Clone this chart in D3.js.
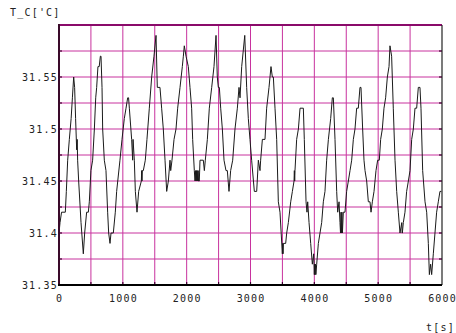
<!DOCTYPE html>
<html>
<head>
<meta charset="utf-8">
<script src="https://cdn.jsdelivr.net/npm/d3@7"></script>
<style>
  body { margin: 0; background: #fff; }
  svg text { font-family: "DejaVu Sans Mono", monospace; font-size: 10px; letter-spacing: 1.2px; fill: #222; }
</style>
</head>
<body>
<svg id="chart" width="456" height="333"></svg>
<script>
// time [s]
const times = [0,16,40,99,115,136,162,190,210,230,245,260,277,285,292,308,345,381,402,433,460,475,500,527,554,575,590,610,630,648,658,674,684,710,736,762,778,799,815,851,882,903,955,987,1023,1050,1076,1090,1102,1138,1154,1160,1180,1196,1222,1248,1290,1295,1300,1305,1321,1352,1378,1415,1452,1488,1520,1540,1582,1608,1634,1661,1687,1713,1739,1750,1770,1802,1833,1859,1896,1932,1948,1963,1990,2026,2052,2078,2094,2120,2131,2140,2145,2152,2158,2165,2172,2180,2186,2198,2209,2261,2277,2292,2324,2355,2392,2428,2460,2480,2496,2512,2533,2559,2585,2616,2637,2663,2689,2721,2757,2794,2820,2836,2862,2910,2940,2966,2992,3018,3060,3097,3123,3149,3159,3186,3227,3253,3290,3321,3342,3358,3384,3410,3436,3462,3499,3505,3510,3515,3551,3567,3593,3630,3656,3682,3687,3692,3697,3723,3750,3776,3828,3843,3870,3885,3896,3917,3943,3969,3990,4000,4005,4011,4018,4024,4037,4063,4089,4115,4141,4167,4193,4220,4256,4282,4298,4324,4350,4366,4387,4402,4410,4418,4425,4432,4440,4454,4480,4506,4533,4559,4585,4611,4637,4663,4689,4715,4731,4757,4778,4794,4820,4846,4872,4888,4909,4935,4966,4992,5018,5039,5065,5091,5117,5144,5170,5185,5211,5237,5264,5290,5316,5342,5370,5375,5379,5394,5420,5446,5473,5499,5525,5551,5577,5603,5629,5655,5671,5697,5734,5760,5786,5802,5822,5838,5864,5890,5916,5942,5968,5990];
// T_C ['C]
const temps = [31.40,31.41,31.42,31.42,31.44,31.47,31.49,31.51,31.53,31.55,31.54,31.51,31.48,31.49,31.47,31.45,31.41,31.38,31.40,31.42,31.42,31.43,31.46,31.47,31.50,31.53,31.54,31.56,31.56,31.57,31.57,31.54,31.50,31.47,31.46,31.42,31.40,31.39,31.40,31.40,31.42,31.44,31.47,31.49,31.51,31.52,31.53,31.53,31.52,31.49,31.47,31.49,31.47,31.44,31.42,31.44,31.45,31.46,31.45,31.46,31.46,31.47,31.49,31.52,31.55,31.57,31.59,31.54,31.54,31.52,31.50,31.47,31.44,31.45,31.47,31.46,31.47,31.49,31.50,31.52,31.54,31.56,31.57,31.58,31.57,31.56,31.54,31.52,31.49,31.46,31.45,31.46,31.45,31.46,31.45,31.46,31.45,31.46,31.45,31.45,31.47,31.47,31.46,31.47,31.49,31.52,31.54,31.56,31.59,31.55,31.54,31.54,31.52,31.50,31.47,31.46,31.46,31.44,31.46,31.47,31.50,31.52,31.54,31.53,31.56,31.59,31.54,31.51,31.49,31.47,31.44,31.44,31.47,31.46,31.47,31.49,31.49,31.52,31.54,31.56,31.55,31.55,31.52,31.49,31.43,31.42,31.38,31.39,31.38,31.39,31.39,31.40,31.41,31.43,31.44,31.45,31.46,31.45,31.46,31.49,31.50,31.52,31.52,31.49,31.43,31.42,31.43,31.41,31.39,31.37,31.38,31.36,31.37,31.36,31.37,31.36,31.37,31.39,31.40,31.41,31.43,31.44,31.47,31.49,31.51,31.53,31.53,31.49,31.44,31.42,31.43,31.41,31.40,31.42,31.40,31.42,31.40,31.42,31.42,31.44,31.45,31.46,31.47,31.49,31.50,31.52,31.52,31.54,31.54,31.50,31.47,31.46,31.45,31.43,31.43,31.42,31.43,31.44,31.46,31.47,31.47,31.49,31.50,31.52,31.53,31.55,31.56,31.58,31.57,31.52,31.47,31.44,31.42,31.40,31.41,31.40,31.40,31.41,31.42,31.44,31.45,31.46,31.49,31.50,31.52,31.52,31.54,31.54,31.52,31.46,31.43,31.42,31.39,31.36,31.37,31.36,31.38,31.40,31.42,31.43,31.44,31.44];

const xTicks = [0,1000,2000,3000,4000,5000,6000];
const yTicks = [31.35,31.4,31.45,31.5,31.55];
const xGrid = [500,1000,1500,2000,2500,3000,3500,4000,4500,5000,5500];
const yGrid = [31.375,31.4,31.425,31.45,31.475,31.5,31.525,31.55,31.575];

const mLeft = 59, mRight = 442, mTop = 25, mBottom = 285;
const svg = d3.select("#chart");

const x = d3.scaleLinear().domain([0, 6000]).range([mLeft, mRight]);
const y = d3.scaleLinear().domain([31.35, 31.6]).range([mBottom, mTop]);

const gridCol = "#c8329e";

// grid
svg.append("g").selectAll("line").data(xGrid).enter().append("line")
  .attr("x1", d => x(d)).attr("x2", d => x(d))
  .attr("y1", mTop).attr("y2", mBottom)
  .attr("stroke", gridCol).attr("stroke-width", 1);

svg.append("g").selectAll("line").data(yGrid).enter().append("line")
  .attr("x1", mLeft).attr("x2", mRight)
  .attr("y1", d => y(d)).attr("y2", d => y(d))
  .attr("stroke", gridCol).attr("stroke-width", 1);

// inward tick marks on left/right/bottom
svg.append("g").selectAll("line").data(yGrid).enter().append("line")
  .attr("x1", mLeft).attr("x2", mLeft + 3).attr("y1", d => y(d)).attr("y2", d => y(d))
  .attr("stroke", "#400030").attr("stroke-width", 1.2);
svg.append("g").selectAll("line").data(yGrid).enter().append("line")
  .attr("x1", mRight - 3).attr("x2", mRight).attr("y1", d => y(d)).attr("y2", d => y(d))
  .attr("stroke", "#400030").attr("stroke-width", 1.2);
svg.append("g").selectAll("line").data(xGrid).enter().append("line")
  .attr("x1", d => x(d)).attr("x2", d => x(d)).attr("y1", mBottom - 3).attr("y2", mBottom)
  .attr("stroke", "#400030").attr("stroke-width", 1.2);

// data line
const line = d3.line().x((d, i) => x(times[i])).y(d => y(d));
svg.append("path")
  .datum(temps)
  .attr("d", line)
  .attr("fill", "none")
  .attr("stroke", "#1a1a1a")
  .attr("stroke-width", 1);

// frame
svg.append("line").attr("x1", mLeft).attr("x2", mRight).attr("y1", mTop).attr("y2", mTop)
  .attr("stroke", "#8a0a6a").attr("stroke-width", 2);
svg.append("line").attr("x1", mRight).attr("x2", mRight).attr("y1", mTop).attr("y2", mBottom)
  .attr("stroke", "#222").attr("stroke-width", 1.2);
svg.append("line").attr("x1", mLeft).attr("x2", mLeft).attr("y1", mTop - 1).attr("y2", mBottom + 1)
  .attr("stroke", "#3a0a2a").attr("stroke-width", 2);
svg.append("line").attr("x1", mLeft - 1).attr("x2", mRight).attr("y1", mBottom).attr("y2", mBottom)
  .attr("stroke", "#000").attr("stroke-width", 2);

// labels
svg.append("g").selectAll("text").data(yTicks).enter().append("text")
  .attr("x", mLeft - 1).attr("y", d => y(d) + 3.6)
  .attr("text-anchor", "end")
  .text(d => d3.format("")(d));

svg.append("g").selectAll("text").data(xTicks).enter().append("text")
  .attr("x", d => x(d) + 0.6).attr("y", 302)
  .attr("text-anchor", "middle")
  .text(d => d);

svg.append("text").attr("x", 10).attr("y", 16).text("T_C['C]");
svg.append("text").attr("x", 455).attr("y", 331).attr("text-anchor", "end").text("t[s]");
</script>
</body>
</html>
